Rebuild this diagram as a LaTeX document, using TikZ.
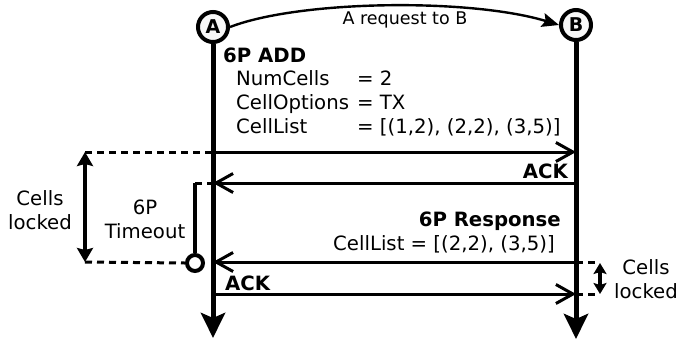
\documentclass[tikz,border=0pt]{standalone}
\usepackage{fontspec}
\setmainfont{DejaVu Sans}
\usetikzlibrary{arrows.meta}
\begin{document}
\begin{tikzpicture}[x=1pt,y=-1pt,
  actor/.style={circle,draw,line width=4pt,fill=gray!6,minimum size=30pt,inner sep=0pt,font=\fontsize{19}{20}\selectfont\bfseries},
  lifeline/.style={line width=5pt,-{Stealth[length=25pt,width=24pt,inset=5pt]}},
  msg/.style={line width=3pt,-{Straight Barb[length=17pt,width=19pt,line width=3pt]}},
  dashline/.style={line width=3pt,dash pattern=on 7pt off 5pt},
  dbl/.style={line width=4.5pt,{Stealth[length=14pt,width=16pt,inset=2pt]}-{Stealth[length=14pt,width=16pt,inset=2pt]}},
  txt/.style={inner sep=0pt,font=\fontsize{19.7}{24}\selectfont},
  btxt/.style={inner sep=0pt,font=\fontsize{19.7}{24}\selectfont\bfseries}]
\useasboundingbox (0,0) rectangle (696,341);
% actors
\node[actor] (A) at (213,27) {A};
\node[actor] (B) at (576,25) {B};
\coordinate (Aend) at (213,338);
\coordinate (Bend) at (576,339);
\draw[lifeline] (A.south) -- (Aend);
\draw[lifeline] (B.south) -- (Bend);
% request curve
\draw[line width=2.4pt,-{Stealth[length=17pt,width=14pt,inset=3pt]}] (A.east) .. controls (300,0) and (470,-2) .. (B.west);
\node[txt,font=\fontsize{17.5}{20}\selectfont] (req) at (405,20) {A request to B};
% 6P ADD block
\node[btxt,anchor=base west] (add) at (223,62) {6P ADD};
\node[txt,anchor=base west] (n1) at (236,85) {NumCells};
\node[txt,anchor=base west] (n2) at (236,109) {CellOptions};
\node[txt,anchor=base west] (n3) at (236,133) {CellList};
\node[txt,anchor=base west] (v1) at (357,85) {= 2};
\node[txt,anchor=base west] (v2) at (357,109) {= TX};
\node[txt,anchor=base west] (v3) at (357,133) {= [(1,2), (2,2), (3,5)]};
% messages
\coordinate (a1) at (213,152); \coordinate (b1) at (576,152);
\coordinate (a2) at (213,183); \coordinate (b2) at (576,183);
\coordinate (a3) at (213,262); \coordinate (b3) at (576,262);
\coordinate (a4) at (213,294); \coordinate (b4) at (576,294);
\draw[msg] (a1) -- (b1);
\draw[msg] (b2) -- (a2);
\draw[msg] (b3) -- (a3);
\draw[msg] (a4) -- (b4);
\node[btxt,anchor=base east] (ack1) at (568,178) {ACK};
\node[btxt,anchor=base east] (resp) at (561,226) {6P Response};
\node[txt,anchor=base east] (cl) at (555,250) {CellList = [(2,2), (3,5)]};
\node[btxt,anchor=base west] (ack2) at (225,290) {ACK};
% left timeout
\coordinate (L1) at (85,152);
\coordinate (L2) at (85,262);
\coordinate (T1) at (195,183);
\node[circle,draw,line width=4pt,minimum size=16pt,inner sep=0pt,fill=white] (T2) at (195,263) {};
\draw[dashline] (L1) -- (a1);
\draw[dashline] (L2) -- (T2.west);
\draw[dashline] (T1) -- (a2);
\draw[line width=4.5pt] (T1) -- (T2.north);
\draw[dbl] (L1) -- (L2);
\node[txt,align=center] (cl1) at (40,210) {Cells\\locked};
\node[txt,align=center] (to) at (145,219) {6P\\Timeout};
% right locked
\coordinate (R1) at (596,262);
\coordinate (R2) at (600,294);
\draw[dashline] (b3) -- (R1);
\draw[dashline] (b4) -- (R2);
\draw[line width=3.5pt,{Stealth[length=11pt,width=13pt,inset=2pt]}-{Stealth[length=11pt,width=13pt,inset=2pt]}] (600,263) -- (600,294);
\node[txt,align=center] (cl2) at (646,279) {Cells\\locked};
\end{tikzpicture}
\end{document}
